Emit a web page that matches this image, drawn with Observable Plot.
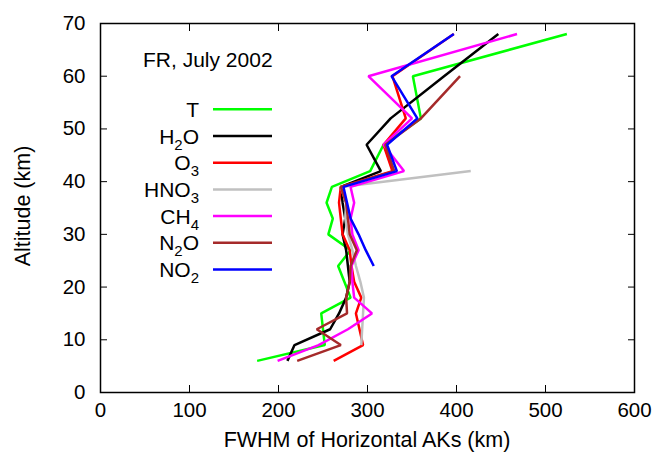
<!DOCTYPE html>
<html><head><meta charset="utf-8">
<script src="https://cdn.jsdelivr.net/npm/d3@7"></script>
<script src="https://cdn.jsdelivr.net/npm/@observablehq/plot@0.6"></script>
<style>body{margin:0;background:#fff} #chart{width:656px;height:458px}</style>
</head><body><div id="chart"></div>
<script>
const altitudes = [6, 9, 12, 15, 18, 21, 24, 27, 30, 33, 36, 39, 42, 47, 52, 60, 68];
const T    = [176, 252, 250, 248, 281, 274, 267, 281, 256, 261, 254, 260, 303, 318, 360, 351, 524];
const H2O  = [210, 218, 258, 268, 276, 280, 278, 276, 272, 275, 272, 270, 315, 299, 326, 386, 447];
const O3   = [262, 295, 291, 287, 293, 285, 282, 280, 272, 270, 268, 270, 328, 318, 343, 328, 397];
const HNO3 = [null, 293, 294, 295, 296, 292, 287, 283, 278, 275, 276, 270, 416, null, null, null, null];
const CH4  = [199, 245, 278, 305, 285, 283, 282, 290, 283, 281, 285, 281, 341, 318, 350, 301, 468];
const N2O  = [221, 270, 243, 277, 276, 280, 281, 288, 280, 278, 276, 270, 330, 320, 360, 404, null];
const NO2  = [null, null, null, null, null, null, 307, 298, 290, 281, 277, 273, 333, 322, 356, 327, 397];

const seriesNames  = ["T", "H2O", "O3", "HNO3", "CH4", "N2O", "NO2"];
const seriesValues = [T, H2O, O3, HNO3, CH4, N2O, NO2];
const seriesColors = ["#00ff00", "#000000", "#ff0000", "#c0c0c0", "#ff00ff", "#a52a2a", "#0000ff"];
// legend labels: [main, subscript, main...]
const legendLabels = [["T"], ["H", "2", "O"], ["O", "3"], ["HNO", "3"], ["CH", "4"], ["N", "2", "O"], ["NO", "2"]];
const titleText = "FR, July 2002";
const xTicks = [0, 100, 200, 300, 400, 500, 600];
const yTicks = [0, 10, 20, 30, 40, 50, 60, 70];
const xLabel = "FWHM of Horizontal AKs (km)";
const yLabel = "Altitude (km)";

const rows = [];
seriesNames.forEach((name, i) => {
  altitudes.forEach((alt, j) => {
    const v = seriesValues[i][j];
    if (v != null) rows.push({series: name, alt, fwhm: v});
  });
});

const FONT = "'Liberation Sans', Arial, Helvetica, sans-serif";
const FS = 20.5;

const chart = Plot.plot({
  width: 656, height: 458,
  marginLeft: 100, marginRight: 22, marginTop: 23, marginBottom: 66,
  style: {fontFamily: FONT, fontSize: FS + "px", background: "white", color: "black"},
  x: {domain: [0, 600], label: null},
  y: {domain: [0, 70], label: null},
  color: {domain: seriesNames, range: seriesColors},
  marks: [
    Plot.axisX({ticks: xTicks, tickSize: 0, tickPadding: 10, label: null, fontSize: FS}),
    Plot.axisX({ticks: xTicks, anchor: "bottom", tickSize: -7, tickFormat: () => "", label: null}),
    Plot.axisX({ticks: xTicks, anchor: "top", tickSize: -7, tickFormat: () => "", label: null}),
    Plot.axisY({ticks: yTicks, tickSize: 0, tickPadding: 15, label: null, fontSize: FS}),
    Plot.axisY({ticks: yTicks, anchor: "left", tickSize: -7, tickFormat: () => "", label: null}),
    Plot.axisY({ticks: yTicks, anchor: "right", tickSize: -7, tickFormat: () => "", label: null}),
    Plot.line(rows, {x: "fwhm", y: "alt", z: "series", stroke: "series", strokeWidth: 2.5, strokeLinejoin: "miter", strokeLinecap: "butt"}),
    Plot.frame({stroke: "black", strokeWidth: 1.5})
  ]
});
document.getElementById("chart").appendChild(chart);

const svg = d3.select(chart);
const g = svg.append("g").attr("font-family", FONT).attr("font-size", FS).attr("fill", "black");
g.append("text").attr("x", 143).attr("y", 66.5).attr("text-anchor", "start").attr("font-size", 21).text(titleText);
legendLabels.forEach((parts, i) => {
  const yc = 109.3 + 26.7 * i;
  const t = g.append("text").attr("x", 199).attr("y", yc + 7.5).attr("text-anchor", "end").attr("font-size", 21);
  parts.forEach((p, k) => {
    if (k % 2 === 1) {
      t.append("tspan").attr("font-size", 15).attr("dy", 6).text(p);
    } else {
      const ts = t.append("tspan").text(p);
      if (k > 0) ts.attr("dy", -6);
    }
  });
  g.append("line").attr("x1", 213).attr("x2", 272).attr("y1", yc).attr("y2", yc)
    .attr("stroke", seriesColors[i]).attr("stroke-width", 2.5);
});
g.append("text").attr("x", 367).attr("y", 447).attr("text-anchor", "middle").attr("font-size", 21.5).text(xLabel);
g.append("text").attr("transform", "translate(30,206) rotate(-90)").attr("text-anchor", "middle").attr("font-size", 21.5).text(yLabel);
</script>
</body></html>
